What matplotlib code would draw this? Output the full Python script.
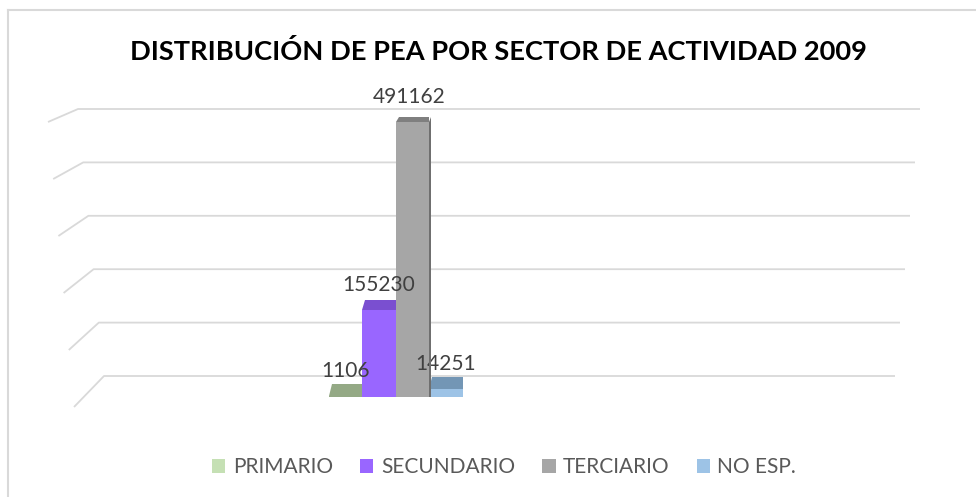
import numpy as np
import matplotlib
matplotlib.use("Agg")
import matplotlib.pyplot as plt
from matplotlib.patches import Polygon, Patch
from matplotlib.transforms import IdentityTransform

# data
sectors = ["PRIMARIO", "SECUNDARIO", "TERCIARIO", "NO ESP."]
pea = [1106, 155230, 491162, 14251]
grid_ticks = [0, 100000, 200000, 300000, 400000, 500000]

front_col = ["#94a985", "#9966ff", "#a6a6a6", "#9dc3e6"]
top_col = ["#94a985", "#7a4fd0", "#7f7f7f", "#7396b5"]
side_col = ["#7d9270", "#6a40c0", "#6f6f6f", "#6a8aa8"]
legend_col = ["#c5e0b4", "#9966ff", "#a6a6a6", "#9dc3e6"]

W, H = 976, 497
plt.rcParams["font.family"] = ["Lato", "DejaVu Sans"]
fig = plt.figure(figsize=(W / 100, H / 100), dpi=100)
fig.patch.set_facecolor("white")


def fx(px):
    return px / W


def fy(py):
    return 1 - py / H


# chart frame (runs off the right and bottom of the picture)
fig.add_artist(plt.Line2D([fx(8), fx(8)], [fy(10), fy(H + 5)], color="#d9d9d9", lw=1.5))
fig.add_artist(plt.Line2D([fx(8), fx(W + 5)], [fy(10), fy(10)], color="#d9d9d9", lw=1.5))

# back wall with gridlines
ax_back = fig.add_axes([0, fy(376), 1, (376 - 109) / H])
ax_back.set_xlim(0, W)
ax_back.set_ylim(0, 500000)
ax_back.axis("off")
k = 500000 / 267.0  # value units per pixel on the back wall
for v in grid_ticks:
    t = v / 500000
    xl = 104 - 26 * t
    xr = 895 + 25 * t
    drop = (31 - 18 * t) * k
    ax_back.plot([xl - 30, xl, xr], [v - drop, v, v], color="#d9d9d9", lw=1.3,
                 clip_on=False, solid_capstyle="butt")

# bars
ax = fig.add_axes([fx(328.5), fy(397), (462.5 - 328.5) / W, (397 - 122) / H])
ax.set_xlim(-0.5, 3.5)
ax.set_ylim(0, max(pea))
ax.axis("off")
x = np.arange(len(pea))
order = [0, 1, 3, 2]
zs = {0: 2, 1: 3, 3: 4, 2: 5}
for i in order:
    ax.bar(x[i], pea[i], width=1.0, color=front_col[i], zorder=zs[i], clip_on=False)
    (x0, y0), (x1, yh) = ax.transData.transform([(x[i] - 0.5, 0), (x[i] + 0.5, pea[i])])
    t = pea[i] / max(pea)
    dy = 12 - 7 * t
    top = Polygon([(x0, yh), (x1, yh), (x1, yh + dy), (x0 + 3, yh + dy)],
                  closed=True, facecolor=top_col[i], edgecolor="none",
                  transform=IdentityTransform(), zorder=zs[i])
    fig.add_artist(top)
    if i == 2:
        side = Polygon([(x1, y0), (x1, yh), (x1 + 2, yh + dy), (x1 + 2, y0)],
                       closed=True, facecolor=side_col[i], edgecolor="none",
                       transform=IdentityTransform(), zorder=zs[i])
        fig.add_artist(side)
    ax.annotate(str(pea[i]), (x[i], pea[i]), xytext=(-2 if i == 2 else 0, 18),
                textcoords="offset points", ha="center", va="center", fontsize=15,
                color="#404040", zorder=10, annotation_clip=False)

fig.text(fx(498), fy(52), "DISTRIBUCIÓN DE PEA POR SECTOR DE ACTIVIDAD 2009",
         ha="center", va="center", fontsize=19.6, fontweight="bold", color="black")

handles = [Patch(facecolor=c, edgecolor="none") for c in legend_col]
fig.legend(handles, sectors, loc="center", bbox_to_anchor=(fx(504), fy(467)), ncol=4,
           frameon=False, fontsize=15, labelcolor="#595959", handlelength=0.65,
           handleheight=0.65, handletextpad=0.35, columnspacing=1.3)

fig.savefig("out.png", dpi=100, facecolor="white")
